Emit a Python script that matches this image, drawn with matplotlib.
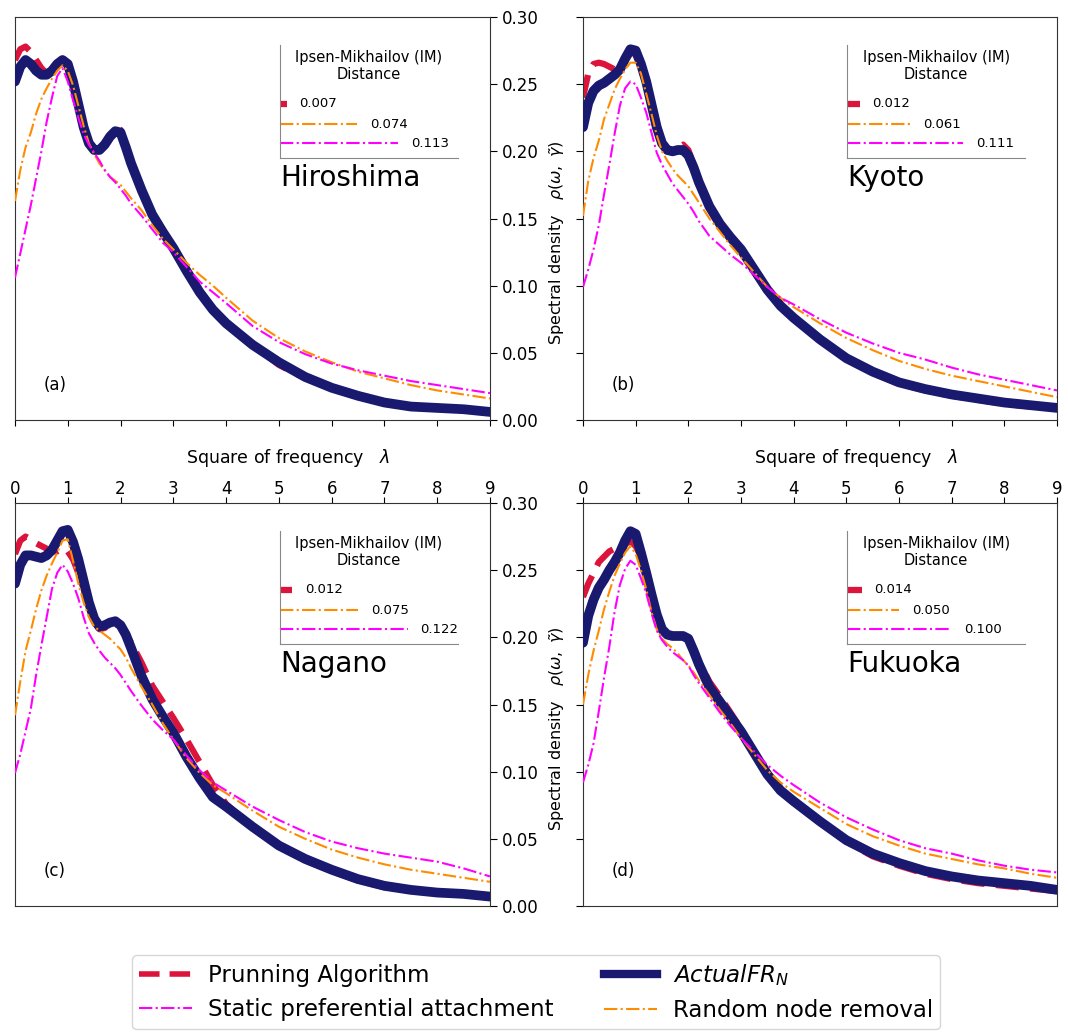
import matplotlib
matplotlib.use("Agg")
import matplotlib.pyplot as plt
from matplotlib.lines import Line2D

# ---------------- data ----------------
lam = [0.0, 0.1, 0.2, 0.3, 0.4, 0.5, 0.6, 0.7, 0.8, 0.9, 1.0, 1.1, 1.2, 1.3, 1.4,
       1.5, 1.6, 1.7, 1.8, 1.9, 2.0, 2.1, 2.2, 2.4, 2.6, 2.8, 3.0, 3.25, 3.5, 3.75,
       4.0, 4.5, 5.0, 5.5, 6.0, 6.5, 7.0, 7.5, 8.0, 8.5, 9.0]

cities = ["Hiroshima", "Kyoto", "Nagano", "Fukuoka"]
panel_tags = ["(a)", "(b)", "(c)", "(d)"]

# Hiroshima
hiro_actual = [0.252, 0.263, 0.268, 0.265, 0.260, 0.257, 0.257, 0.260, 0.265, 0.268, 0.265,
               0.252, 0.235, 0.218, 0.206, 0.201, 0.201, 0.205, 0.211, 0.215, 0.214, 0.203,
               0.191, 0.171, 0.153, 0.140, 0.128, 0.111, 0.095, 0.082, 0.072, 0.056, 0.043,
               0.032, 0.024, 0.018, 0.013, 0.010, 0.009, 0.008, 0.006]
hiro_prune = [0.268, 0.276, 0.278, 0.274, 0.268, 0.262, 0.258, 0.259, 0.264, 0.267, 0.264,
              0.252, 0.235, 0.218, 0.206, 0.201, 0.201, 0.205, 0.212, 0.217, 0.216, 0.204,
              0.191, 0.171, 0.153, 0.140, 0.128, 0.111, 0.095, 0.082, 0.072, 0.056, 0.041,
              0.031, 0.024, 0.018, 0.013, 0.010, 0.009, 0.008, 0.006]
hiro_random = [0.163, 0.186, 0.203, 0.214, 0.228, 0.239, 0.247, 0.254, 0.260, 0.264, 0.260,
               0.249, 0.234, 0.219, 0.206, 0.198, 0.191, 0.186, 0.181, 0.178, 0.175, 0.170,
               0.165, 0.156, 0.145, 0.135, 0.127, 0.117, 0.108, 0.100, 0.091, 0.074, 0.061,
               0.051, 0.043, 0.036, 0.031, 0.026, 0.022, 0.019, 0.016]
hiro_static = [0.106, 0.124, 0.142, 0.160, 0.180, 0.200, 0.222, 0.240, 0.256, 0.262, 0.252,
               0.238, 0.225, 0.213, 0.205, 0.199, 0.193, 0.186, 0.181, 0.177, 0.172, 0.167,
               0.161, 0.152, 0.142, 0.132, 0.125, 0.114, 0.103, 0.095, 0.087, 0.070, 0.058,
               0.049, 0.042, 0.037, 0.033, 0.029, 0.026, 0.023, 0.020]

# Kyoto
kyoto_actual = [0.218, 0.236, 0.245, 0.249, 0.251, 0.254, 0.257, 0.261, 0.269, 0.276, 0.275,
                0.265, 0.252, 0.235, 0.218, 0.206, 0.201, 0.200, 0.201, 0.201, 0.197, 0.188,
                0.177, 0.159, 0.146, 0.136, 0.127, 0.112, 0.097, 0.085, 0.076, 0.060, 0.046,
                0.036, 0.028, 0.023, 0.019, 0.016, 0.013, 0.011, 0.009]
kyoto_prune = [0.240, 0.258, 0.265, 0.266, 0.265, 0.263, 0.261, 0.262, 0.268, 0.273, 0.273,
               0.264, 0.252, 0.235, 0.218, 0.206, 0.201, 0.201, 0.203, 0.205, 0.201, 0.190,
               0.177, 0.159, 0.146, 0.136, 0.127, 0.112, 0.097, 0.085, 0.076, 0.060, 0.046,
               0.035, 0.027, 0.022, 0.018, 0.015, 0.012, 0.010, 0.009]
kyoto_random = [0.152, 0.178, 0.195, 0.208, 0.224, 0.235, 0.246, 0.254, 0.261, 0.266, 0.266,
                0.258, 0.243, 0.228, 0.212, 0.200, 0.193, 0.187, 0.182, 0.178, 0.174, 0.168,
                0.162, 0.150, 0.140, 0.130, 0.121, 0.110, 0.099, 0.091, 0.084, 0.072, 0.061,
                0.052, 0.044, 0.038, 0.033, 0.029, 0.025, 0.021, 0.017]
kyoto_static = [0.099, 0.112, 0.127, 0.145, 0.168, 0.190, 0.213, 0.234, 0.247, 0.252, 0.250,
                0.240, 0.229, 0.214, 0.199, 0.190, 0.183, 0.176, 0.171, 0.166, 0.161, 0.155,
                0.148, 0.137, 0.130, 0.123, 0.117, 0.108, 0.099, 0.091, 0.086, 0.075, 0.065,
                0.057, 0.050, 0.045, 0.039, 0.034, 0.030, 0.026, 0.022]

# Nagano
nagano_actual = [0.240, 0.254, 0.261, 0.261, 0.260, 0.259, 0.261, 0.265, 0.272, 0.279, 0.280,
                 0.271, 0.258, 0.242, 0.226, 0.214, 0.208, 0.209, 0.211, 0.212, 0.209, 0.202,
                 0.192, 0.171, 0.154, 0.141, 0.129, 0.111, 0.095, 0.081, 0.074, 0.059, 0.045,
                 0.035, 0.027, 0.020, 0.015, 0.012, 0.010, 0.009, 0.007]
nagano_prune = [0.262, 0.272, 0.275, 0.273, 0.270, 0.268, 0.266, 0.264, 0.264, 0.266, 0.264,
                0.258, 0.248, 0.236, 0.222, 0.211, 0.206, 0.207, 0.209, 0.210, 0.208, 0.203,
                0.196, 0.181, 0.164, 0.152, 0.140, 0.124, 0.107, 0.090, 0.076, 0.058, 0.045,
                0.034, 0.026, 0.019, 0.014, 0.012, 0.010, 0.009, 0.007]
nagano_random = [0.142, 0.167, 0.190, 0.205, 0.221, 0.235, 0.246, 0.255, 0.263, 0.272, 0.273,
                 0.257, 0.240, 0.226, 0.215, 0.208, 0.205, 0.202, 0.199, 0.195, 0.191, 0.185,
                 0.177, 0.163, 0.150, 0.136, 0.124, 0.110, 0.099, 0.090, 0.084, 0.071, 0.059,
                 0.050, 0.042, 0.036, 0.031, 0.027, 0.024, 0.021, 0.018]
nagano_static = [0.099, 0.113, 0.130, 0.147, 0.172, 0.194, 0.215, 0.236, 0.248, 0.254, 0.249,
                 0.240, 0.229, 0.215, 0.203, 0.196, 0.190, 0.185, 0.181, 0.177, 0.172, 0.166,
                 0.160, 0.149, 0.139, 0.131, 0.124, 0.112, 0.101, 0.092, 0.086, 0.074, 0.064,
                 0.055, 0.048, 0.043, 0.039, 0.036, 0.033, 0.028, 0.022]

# Fukuoka
fuku_actual = [0.196, 0.216, 0.228, 0.237, 0.243, 0.250, 0.256, 0.263, 0.272, 0.279, 0.277,
               0.263, 0.248, 0.232, 0.217, 0.206, 0.202, 0.201, 0.201, 0.201, 0.199, 0.190,
               0.180, 0.163, 0.152, 0.141, 0.130, 0.114, 0.098, 0.086, 0.078, 0.063, 0.049,
               0.039, 0.032, 0.026, 0.022, 0.019, 0.017, 0.015, 0.012]
fuku_prune = [0.230, 0.240, 0.248, 0.256, 0.260, 0.264, 0.266, 0.268, 0.270, 0.271, 0.268,
              0.260, 0.247, 0.232, 0.217, 0.206, 0.202, 0.201, 0.201, 0.201, 0.199, 0.191,
              0.182, 0.167, 0.156, 0.144, 0.132, 0.115, 0.098, 0.086, 0.078, 0.062, 0.048,
              0.037, 0.030, 0.024, 0.020, 0.017, 0.015, 0.013, 0.011]
fuku_random = [0.150, 0.172, 0.190, 0.205, 0.221, 0.234, 0.246, 0.255, 0.263, 0.268, 0.262,
               0.250, 0.236, 0.219, 0.206, 0.199, 0.195, 0.192, 0.188, 0.183, 0.179, 0.174,
               0.168, 0.157, 0.146, 0.136, 0.125, 0.113, 0.101, 0.092, 0.085, 0.073, 0.061,
               0.052, 0.045, 0.039, 0.035, 0.031, 0.028, 0.024, 0.021]
fuku_static = [0.092, 0.105, 0.121, 0.145, 0.170, 0.193, 0.219, 0.239, 0.251, 0.257, 0.254,
               0.244, 0.233, 0.218, 0.205, 0.198, 0.193, 0.189, 0.186, 0.183, 0.179, 0.172,
               0.166, 0.155, 0.144, 0.134, 0.125, 0.115, 0.105, 0.097, 0.090, 0.077, 0.066,
               0.057, 0.049, 0.043, 0.039, 0.034, 0.030, 0.027, 0.025]

# Ipsen-Mikhailov distances: [prunning, random removal, static pref. attachment]
im_hiro = [0.007, 0.074, 0.113]
im_kyoto = [0.012, 0.061, 0.111]
im_nagano = [0.012, 0.075, 0.122]
im_fuku = [0.014, 0.050, 0.100]

series = {
    "Hiroshima": (hiro_prune, hiro_actual, hiro_random, hiro_static, im_hiro),
    "Kyoto": (kyoto_prune, kyoto_actual, kyoto_random, kyoto_static, im_kyoto),
    "Nagano": (nagano_prune, nagano_actual, nagano_random, nagano_static, im_nagano),
    "Fukuoka": (fuku_prune, fuku_actual, fuku_random, fuku_static, im_fuku),
}

x_ticks = [0, 1, 2, 3, 4, 5, 6, 7, 8, 9]
y_ticks = [0.00, 0.05, 0.10, 0.15, 0.20, 0.25, 0.30]

C_PRUNE = "#DC143C"
C_ACTUAL = "#191970"
C_RANDOM = "#FF8C00"
C_STATIC = "#FF00FF"

labels = ["Prunning Algorithm", "Static preferential attachment",
          r"$ActualFR_N$", "Random node removal"]

# ---------------- figure ----------------
fig = plt.figure(figsize=(10.68, 10.32), dpi=100)
W, H = 1068, 1032
boxes = [(15, 17, 490, 420), (583, 17, 1057, 420),
         (15, 503, 490, 906), (583, 503, 1057, 906)]

for i, city in enumerate(cities):
    x0, y0, x1, y1 = boxes[i]
    ax = fig.add_axes([x0 / W, 1 - y1 / H, (x1 - x0) / W, (y1 - y0) / H])
    prune, actual, rand, stat, im = series[city]
    ax.plot(lam, prune, color=C_PRUNE, lw=4.5, ls=(0, (3.7, 1.8)), zorder=2)
    ax.plot(lam, actual, color=C_ACTUAL, lw=7, zorder=3, solid_capstyle="round",
            solid_joinstyle="round")
    ax.plot(lam, rand, color=C_RANDOM, lw=1.5, ls="-.", zorder=4)
    ax.plot(lam, stat, color=C_STATIC, lw=1.5, ls="-.", zorder=4)
    ax.set_xlim(0, 9)
    ax.set_ylim(0, 0.30)
    ax.set_xticks(x_ticks)
    ax.set_yticks(y_ticks)
    ax.tick_params(axis="y", labelsize=12, length=5)
    ax.tick_params(axis="x", labelsize=12, length=4.3, pad=-0.5)
    for s in ax.spines.values():
        s.set_color("#333333")

    left = (i % 2 == 0)
    top = (i < 2)
    if left:
        ax.yaxis.tick_right()
        ax.yaxis.set_label_position("right")
        ax.set_yticklabels([f"{v:.2f}" for v in y_ticks])
        ax.set_ylabel(r"Spectral density   $\rho(\omega,\ \tilde{\gamma})$",
                      fontsize=11.5, labelpad=6)
        ax.yaxis.label.set_y(0.44)
    else:
        ax.tick_params(axis="y", left=True, labelleft=False, right=False, labelright=False)
    if top:
        ax.tick_params(axis="x", bottom=True, labelbottom=False)
    else:
        ax.xaxis.tick_top()
        ax.xaxis.set_label_position("top")
        ax.set_xlabel(r"Square of frequency   $\lambda$", fontsize=12.5, labelpad=12)
        ax.xaxis.label.set_x(0.575)

    ax.text(0.558, 0.60, city, transform=ax.transAxes, fontsize=20, va="center", ha="left")
    ax.text(0.06, 0.087, panel_tags[i], transform=ax.transAxes, fontsize=12, va="center", ha="left")

    # inset with IM distances
    ins = ax.inset_axes([0.557, 0.65, 0.376, 0.28])
    ins.set_xlim(0, 0.17)
    ins.set_ylim(0, 1)
    ins.set_xticks([])
    ins.set_yticks([])
    ins.patch.set_alpha(0)
    for s in ["top", "right"]:
        ins.spines[s].set_visible(False)
    for s in ["left", "bottom"]:
        ins.spines[s].set_color("#888888")
        ins.spines[s].set_linewidth(0.8)
    rows = [0.48, 0.30, 0.13]
    cols = [C_PRUNE, C_RANDOM, C_STATIC]
    styles = [dict(lw=4.5, ls="-"), dict(lw=1.5, ls="-."), dict(lw=1.5, ls="-.")]
    for d, yr, c, st in zip(im, rows, cols, styles):
        ins.plot([0, d], [yr, yr], color=c, solid_capstyle="butt", **st)
        ins.text(d + 0.012, yr, f"{d:.3f}", fontsize=9.5, va="center", ha="left")
    ins.text(0.5, 0.815, "Ipsen-Mikhailov (IM)\nDistance", transform=ins.transAxes,
             ha="center", va="center", fontsize=10.5, linespacing=1.15)

handles = [
    Line2D([], [], color=C_PRUNE, lw=4, ls=(0, (3.7, 1.8))),
    Line2D([], [], color=C_STATIC, lw=1.5, ls="-."),
    Line2D([], [], color=C_ACTUAL, lw=6),
    Line2D([], [], color=C_RANDOM, lw=1.5, ls="-."),
]
fig.legend(handles, labels, loc="upper center", bbox_to_anchor=(0.502, 0.0746),
           borderaxespad=0, ncol=2, fontsize=16.5, handlelength=2.3, handletextpad=0.7,
           columnspacing=2.2, labelspacing=0.5, borderpad=0.3, frameon=True)

fig.savefig("out.png", dpi=100)
